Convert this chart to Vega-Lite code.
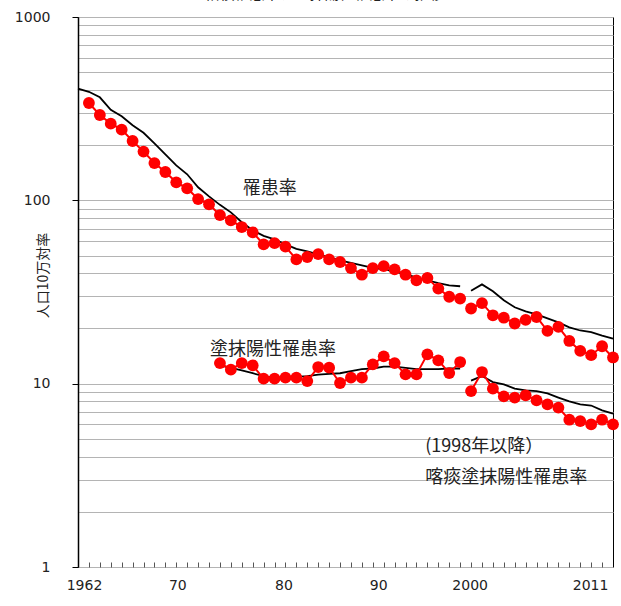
{
  "$schema": "https://vega.github.io/schema/vega-lite/v6.json",
  "width": 535,
  "height": 550,
  "autosize": {"type": "none"},
  "padding": {"left": 78, "top": 17, "right": 8, "bottom": 39},
  "background": "white",
  "config": {
    "view": {"stroke": "black", "strokeWidth": 1},
    "font": "Noto Sans CJK JP"
  },
  "title": {
    "text": "結核罹患率、塗抹陽性罹患率の推移",
    "font": "Noto Sans CJK JP",
    "fontSize": 15,
    "fontWeight": "normal",
    "color": "#222222",
    "anchor": "middle",
    "frame": "group",
    "dx": -21,
    "dy": 8,
    "baseline": "alphabetic",
    "offset": 4
  },
  "datasets": {
    "rates": [
      {"year": 1962, "series": "全国罹患率", "period": "A", "value": 406.8},
      {"year": 1963, "series": "全国罹患率", "period": "A", "value": 390.8},
      {"year": 1964, "series": "全国罹患率", "period": "A", "value": 364.7},
      {"year": 1965, "series": "全国罹患率", "period": "A", "value": 311.8},
      {"year": 1966, "series": "全国罹患率", "period": "A", "value": 287.3},
      {"year": 1967, "series": "全国罹患率", "period": "A", "value": 256.6},
      {"year": 1968, "series": "全国罹患率", "period": "A", "value": 233.5},
      {"year": 1969, "series": "全国罹患率", "period": "A", "value": 204.6},
      {"year": 1970, "series": "全国罹患率", "period": "A", "value": 178.2},
      {"year": 1971, "series": "全国罹患率", "period": "A", "value": 155.2},
      {"year": 1972, "series": "全国罹患率", "period": "A", "value": 138.7},
      {"year": 1973, "series": "全国罹患率", "period": "A", "value": 117.8},
      {"year": 1974, "series": "全国罹患率", "period": "A", "value": 105.1},
      {"year": 1975, "series": "全国罹患率", "period": "A", "value": 94.5},
      {"year": 1976, "series": "全国罹患率", "period": "A", "value": 86.0},
      {"year": 1977, "series": "全国罹患率", "period": "A", "value": 75.9},
      {"year": 1978, "series": "全国罹患率", "period": "A", "value": 68.6},
      {"year": 1979, "series": "全国罹患率", "period": "A", "value": 64.0},
      {"year": 1980, "series": "全国罹患率", "period": "A", "value": 61.3},
      {"year": 1981, "series": "全国罹患率", "period": "A", "value": 57.5},
      {"year": 1982, "series": "全国罹患率", "period": "A", "value": 54.4},
      {"year": 1983, "series": "全国罹患率", "period": "A", "value": 52.7},
      {"year": 1984, "series": "全国罹患率", "period": "A", "value": 50.7},
      {"year": 1985, "series": "全国罹患率", "period": "A", "value": 48.9},
      {"year": 1986, "series": "全国罹患率", "period": "A", "value": 47.1},
      {"year": 1987, "series": "全国罹患率", "period": "A", "value": 45.6},
      {"year": 1988, "series": "全国罹患率", "period": "A", "value": 44.2},
      {"year": 1989, "series": "全国罹患率", "period": "A", "value": 42.8},
      {"year": 1990, "series": "全国罹患率", "period": "A", "value": 42.0},
      {"year": 1991, "series": "全国罹患率", "period": "A", "value": 41.0},
      {"year": 1992, "series": "全国罹患率", "period": "A", "value": 39.5},
      {"year": 1993, "series": "全国罹患率", "period": "A", "value": 38.0},
      {"year": 1994, "series": "全国罹患率", "period": "A", "value": 36.6},
      {"year": 1995, "series": "全国罹患率", "period": "A", "value": 35.3},
      {"year": 1996, "series": "全国罹患率", "period": "A", "value": 34.4},
      {"year": 1997, "series": "全国罹患率", "period": "A", "value": 34.0},
      {"year": 1998, "series": "全国罹患率", "period": "B", "value": 32.1},
      {"year": 1999, "series": "全国罹患率", "period": "B", "value": 34.8},
      {"year": 2000, "series": "全国罹患率", "period": "B", "value": 31.9},
      {"year": 2001, "series": "全国罹患率", "period": "B", "value": 28.5},
      {"year": 2002, "series": "全国罹患率", "period": "B", "value": 26.1},
      {"year": 2003, "series": "全国罹患率", "period": "B", "value": 24.8},
      {"year": 2004, "series": "全国罹患率", "period": "B", "value": 23.9},
      {"year": 2005, "series": "全国罹患率", "period": "B", "value": 22.7},
      {"year": 2006, "series": "全国罹患率", "period": "B", "value": 21.6},
      {"year": 2007, "series": "全国罹患率", "period": "B", "value": 20.3},
      {"year": 2008, "series": "全国罹患率", "period": "B", "value": 19.5},
      {"year": 2009, "series": "全国罹患率", "period": "B", "value": 19.1},
      {"year": 2010, "series": "全国罹患率", "period": "B", "value": 18.3},
      {"year": 2011, "series": "全国罹患率", "period": "B", "value": 17.6},

      {"year": 1975, "series": "全国塗抹陽性", "period": "A", "value": 12.6},
      {"year": 1976, "series": "全国塗抹陽性", "period": "A", "value": 12.2},
      {"year": 1977, "series": "全国塗抹陽性", "period": "A", "value": 11.8},
      {"year": 1978, "series": "全国塗抹陽性", "period": "A", "value": 11.4},
      {"year": 1979, "series": "全国塗抹陽性", "period": "A", "value": 11.0},
      {"year": 1980, "series": "全国塗抹陽性", "period": "A", "value": 10.8},
      {"year": 1981, "series": "全国塗抹陽性", "period": "A", "value": 10.8},
      {"year": 1982, "series": "全国塗抹陽性", "period": "A", "value": 10.9},
      {"year": 1983, "series": "全国塗抹陽性", "period": "A", "value": 11.0},
      {"year": 1984, "series": "全国塗抹陽性", "period": "A", "value": 11.2},
      {"year": 1985, "series": "全国塗抹陽性", "period": "A", "value": 11.3},
      {"year": 1986, "series": "全国塗抹陽性", "period": "A", "value": 11.4},
      {"year": 1987, "series": "全国塗抹陽性", "period": "A", "value": 11.7},
      {"year": 1988, "series": "全国塗抹陽性", "period": "A", "value": 12.0},
      {"year": 1989, "series": "全国塗抹陽性", "period": "A", "value": 12.1},
      {"year": 1990, "series": "全国塗抹陽性", "period": "A", "value": 12.4},
      {"year": 1991, "series": "全国塗抹陽性", "period": "A", "value": 12.4},
      {"year": 1992, "series": "全国塗抹陽性", "period": "A", "value": 12.2},
      {"year": 1993, "series": "全国塗抹陽性", "period": "A", "value": 12.0},
      {"year": 1994, "series": "全国塗抹陽性", "period": "A", "value": 12.0},
      {"year": 1995, "series": "全国塗抹陽性", "period": "A", "value": 12.0},
      {"year": 1996, "series": "全国塗抹陽性", "period": "A", "value": 12.1},
      {"year": 1997, "series": "全国塗抹陽性", "period": "A", "value": 12.1},
      {"year": 1998, "series": "全国塗抹陽性", "period": "B", "value": 10.4},
      {"year": 1999, "series": "全国塗抹陽性", "period": "B", "value": 11.0},
      {"year": 2000, "series": "全国塗抹陽性", "period": "B", "value": 10.2},
      {"year": 2001, "series": "全国塗抹陽性", "period": "B", "value": 9.9},
      {"year": 2002, "series": "全国塗抹陽性", "period": "B", "value": 9.4},
      {"year": 2003, "series": "全国塗抹陽性", "period": "B", "value": 9.2},
      {"year": 2004, "series": "全国塗抹陽性", "period": "B", "value": 9.1},
      {"year": 2005, "series": "全国塗抹陽性", "period": "B", "value": 8.85},
      {"year": 2006, "series": "全国塗抹陽性", "period": "B", "value": 8.4},
      {"year": 2007, "series": "全国塗抹陽性", "period": "B", "value": 8.0},
      {"year": 2008, "series": "全国塗抹陽性", "period": "B", "value": 7.7},
      {"year": 2009, "series": "全国塗抹陽性", "period": "B", "value": 7.6},
      {"year": 2010, "series": "全国塗抹陽性", "period": "B", "value": 7.15},
      {"year": 2011, "series": "全国塗抹陽性", "period": "B", "value": 6.86},

      {"year": 1963, "series": "罹患率", "period": "A", "value": 339.6},
      {"year": 1964, "series": "罹患率", "period": "A", "value": 292},
      {"year": 1965, "series": "罹患率", "period": "A", "value": 262},
      {"year": 1966, "series": "罹患率", "period": "A", "value": 243},
      {"year": 1967, "series": "罹患率", "period": "A", "value": 210.6},
      {"year": 1968, "series": "罹患率", "period": "A", "value": 184.4},
      {"year": 1969, "series": "罹患率", "period": "A", "value": 159.7},
      {"year": 1970, "series": "罹患率", "period": "A", "value": 142.7},
      {"year": 1971, "series": "罹患率", "period": "A", "value": 125.4},
      {"year": 1972, "series": "罹患率", "period": "A", "value": 116.3},
      {"year": 1973, "series": "罹患率", "period": "A", "value": 101.6},
      {"year": 1974, "series": "罹患率", "period": "A", "value": 95.1},
      {"year": 1975, "series": "罹患率", "period": "A", "value": 83.1},
      {"year": 1976, "series": "罹患率", "period": "A", "value": 77.8},
      {"year": 1977, "series": "罹患率", "period": "A", "value": 71.5},
      {"year": 1978, "series": "罹患率", "period": "A", "value": 66.9},
      {"year": 1979, "series": "罹患率", "period": "A", "value": 57.5},
      {"year": 1980, "series": "罹患率", "period": "A", "value": 58.4},
      {"year": 1981, "series": "罹患率", "period": "A", "value": 55.9},
      {"year": 1982, "series": "罹患率", "period": "A", "value": 47.6},
      {"year": 1983, "series": "罹患率", "period": "A", "value": 49.1},
      {"year": 1984, "series": "罹患率", "period": "A", "value": 50.9},
      {"year": 1985, "series": "罹患率", "period": "A", "value": 47.6},
      {"year": 1986, "series": "罹患率", "period": "A", "value": 46.1},
      {"year": 1987, "series": "罹患率", "period": "A", "value": 42.7},
      {"year": 1988, "series": "罹患率", "period": "A", "value": 39.3},
      {"year": 1989, "series": "罹患率", "period": "A", "value": 42.7},
      {"year": 1990, "series": "罹患率", "period": "A", "value": 43.8},
      {"year": 1991, "series": "罹患率", "period": "A", "value": 42.0},
      {"year": 1992, "series": "罹患率", "period": "A", "value": 39.3},
      {"year": 1993, "series": "罹患率", "period": "A", "value": 36.6},
      {"year": 1994, "series": "罹患率", "period": "A", "value": 37.7},
      {"year": 1995, "series": "罹患率", "period": "A", "value": 33.0},
      {"year": 1996, "series": "罹患率", "period": "A", "value": 29.8},
      {"year": 1997, "series": "罹患率", "period": "A", "value": 29.1},
      {"year": 1998, "series": "罹患率", "period": "B", "value": 25.7},
      {"year": 1999, "series": "罹患率", "period": "B", "value": 27.5},
      {"year": 2000, "series": "罹患率", "period": "B", "value": 23.6},
      {"year": 2001, "series": "罹患率", "period": "B", "value": 22.9},
      {"year": 2002, "series": "罹患率", "period": "B", "value": 21.3},
      {"year": 2003, "series": "罹患率", "period": "B", "value": 22.3},
      {"year": 2004, "series": "罹患率", "period": "B", "value": 23.1},
      {"year": 2005, "series": "罹患率", "period": "B", "value": 19.4},
      {"year": 2006, "series": "罹患率", "period": "B", "value": 20.4},
      {"year": 2007, "series": "罹患率", "period": "B", "value": 17.1},
      {"year": 2008, "series": "罹患率", "period": "B", "value": 15.1},
      {"year": 2009, "series": "罹患率", "period": "B", "value": 14.3},
      {"year": 2010, "series": "罹患率", "period": "B", "value": 16.0},
      {"year": 2011, "series": "罹患率", "period": "B", "value": 13.9},

      {"year": 1975, "series": "塗抹陽性罹患率", "period": "A", "value": 12.95},
      {"year": 1976, "series": "塗抹陽性罹患率", "period": "A", "value": 11.92},
      {"year": 1977, "series": "塗抹陽性罹患率", "period": "A", "value": 12.95},
      {"year": 1978, "series": "塗抹陽性罹患率", "period": "A", "value": 12.58},
      {"year": 1979, "series": "塗抹陽性罹患率", "period": "A", "value": 10.65},
      {"year": 1980, "series": "塗抹陽性罹患率", "period": "A", "value": 10.65},
      {"year": 1981, "series": "塗抹陽性罹患率", "period": "A", "value": 10.78},
      {"year": 1982, "series": "塗抹陽性罹患率", "period": "A", "value": 10.78},
      {"year": 1983, "series": "塗抹陽性罹患率", "period": "A", "value": 10.33},
      {"year": 1984, "series": "塗抹陽性罹患率", "period": "A", "value": 12.32},
      {"year": 1985, "series": "塗抹陽性罹患率", "period": "A", "value": 12.23},
      {"year": 1986, "series": "塗抹陽性罹患率", "period": "A", "value": 10.08},
      {"year": 1987, "series": "塗抹陽性罹患率", "period": "A", "value": 10.78},
      {"year": 1988, "series": "塗抹陽性罹患率", "period": "A", "value": 10.78},
      {"year": 1989, "series": "塗抹陽性罹患率", "period": "A", "value": 12.74},
      {"year": 1990, "series": "塗抹陽性罹患率", "period": "A", "value": 14.09},
      {"year": 1991, "series": "塗抹陽性罹患率", "period": "A", "value": 12.95},
      {"year": 1992, "series": "塗抹陽性罹患率", "period": "A", "value": 11.24},
      {"year": 1993, "series": "塗抹陽性罹患率", "period": "A", "value": 11.24},
      {"year": 1994, "series": "塗抹陽性罹患率", "period": "A", "value": 14.45},
      {"year": 1995, "series": "塗抹陽性罹患率", "period": "A", "value": 13.4},
      {"year": 1996, "series": "塗抹陽性罹患率", "period": "A", "value": 11.42},
      {"year": 1997, "series": "塗抹陽性罹患率", "period": "A", "value": 13.12},
      {"year": 1998, "series": "塗抹陽性罹患率", "period": "B", "value": 9.11},
      {"year": 1999, "series": "塗抹陽性罹患率", "period": "B", "value": 11.57},
      {"year": 2000, "series": "塗抹陽性罹患率", "period": "B", "value": 9.39},
      {"year": 2001, "series": "塗抹陽性罹患率", "period": "B", "value": 8.52},
      {"year": 2002, "series": "塗抹陽性罹患率", "period": "B", "value": 8.39},
      {"year": 2003, "series": "塗抹陽性罹患率", "period": "B", "value": 8.64},
      {"year": 2004, "series": "塗抹陽性罹患率", "period": "B", "value": 8.11},
      {"year": 2005, "series": "塗抹陽性罹患率", "period": "B", "value": 7.71},
      {"year": 2006, "series": "塗抹陽性罹患率", "period": "B", "value": 7.4},
      {"year": 2007, "series": "塗抹陽性罹患率", "period": "B", "value": 6.36},
      {"year": 2008, "series": "塗抹陽性罹患率", "period": "B", "value": 6.25},
      {"year": 2009, "series": "塗抹陽性罹患率", "period": "B", "value": 6.0},
      {"year": 2010, "series": "塗抹陽性罹患率", "period": "B", "value": 6.36},
      {"year": 2011, "series": "塗抹陽性罹患率", "period": "B", "value": 6.0}
    ],
    "notes": [
      {"year": 1977.1, "value": 116, "label": "罹患率"},
      {"year": 1974.1, "value": 15.2, "label": "塗抹陽性罹患率"},
      {"year": 1993.8, "value": 4.49, "label": "(1998年以降）"},
      {"year": 1993.8, "value": 3.04, "label": "喀痰塗抹陽性罹患率"}
    ]
  },
  "encoding": {
    "x": {
      "field": "year",
      "type": "quantitative",
      "scale": {"domain": [1962, 2011], "nice": false, "zero": false},
      "axis": {
        "title": null,
        "values": [1962.55, 1963, 1964, 1965, 1966, 1967, 1968, 1969, 1970, 1971, 1971.1, 1972, 1973, 1974, 1975, 1976, 1977, 1978, 1979, 1980, 1980.82, 1981, 1982, 1983, 1984, 1985, 1986, 1987, 1988, 1989, 1989.5, 1990, 1991, 1992, 1993, 1994, 1995, 1996, 1997, 1997.87, 1998, 1999, 2000, 2001, 2002, 2003, 2004, 2005, 2006, 2007, 2008, 2008.9, 2009, 2010],
        "grid": false,
        "domain": false,
        "tickSize": -5,
        "tickColor": "#555555",
        "tickWidth": 1,
        "tickOpacity": {"condition": {"test": "datum.value % 1 === 0", "value": 1}, "value": 0},
        "labelExpr": "datum.value % 1 === 0 ? '' : (datum.value < 1965 ? '1962' : datum.value < 1975 ? '70' : datum.value < 1985 ? '80' : datum.value < 1995 ? '90' : datum.value < 2005 ? '2000' : '2011')",
        "labelOverlap": false,
        "labelFlush": false,
        "labelFont": "DejaVu Sans",
        "labelFontSize": 14,
        "labelColor": "#222222",
        "labelPadding": 16
      }
    },
    "y": {
      "field": "value",
      "type": "quantitative",
      "scale": {"type": "log", "domain": [1, 1000], "nice": false},
      "axis": {
        "title": "人口10万対率",
        "titleFont": "Noto Sans CJK JP",
        "titleFontSize": 14,
        "titleFontWeight": "normal",
        "titleColor": "#222222",
        "titleX": -35,
        "titleY": 258,
        "titleAngle": -90,
        "titleAlign": "center",
        "titleBaseline": "middle",
        "values": [1, 2, 3, 4, 5, 6, 7, 8, 9, 10, 20, 30, 40, 50, 60, 70, 80, 90, 100, 200, 300, 400, 500, 600, 700, 800, 900, 1000],
        "format": "d",
        "grid": true,
        "gridColor": "#b4b4b4",
        "gridWidth": 1,
        "domainColor": "black",
        "domainWidth": 1.5,
        "tickSize": 6,
        "tickColor": "black",
        "tickOpacity": {"condition": {"test": "indexof([1, 10, 100, 1000], datum.value) >= 0", "value": 1}, "value": 0},
        "labelExpr": "indexof([1, 10, 100, 1000], datum.value) >= 0 ? datum.label : ''",
        "labelOverlap": false,
        "labelFont": "DejaVu Sans",
        "labelFontSize": 14,
        "labelColor": "#222222",
        "labelPadding": 22
      }
    }
  },
  "layer": [
    {
      "data": {"name": "rates"},
      "transform": [{"filter": "datum.series === '全国罹患率' || datum.series === '全国塗抹陽性'"}],
      "mark": {"type": "line", "color": "black", "strokeWidth": 1.8},
      "encoding": {"detail": [{"field": "series"}, {"field": "period"}]}
    },
    {
      "data": {"name": "rates"},
      "transform": [{"filter": "datum.series === '罹患率' || datum.series === '塗抹陽性罹患率'"}],
      "mark": {"type": "line", "color": "#ff0000", "strokeWidth": 2},
      "encoding": {"detail": [{"field": "series"}, {"field": "period"}]}
    },
    {
      "data": {"name": "rates"},
      "transform": [{"filter": "datum.series === '罹患率' || datum.series === '塗抹陽性罹患率'"}],
      "mark": {"type": "circle", "color": "#ff0000", "opacity": 1, "size": 140}
    },
    {
      "data": {"name": "notes"},
      "mark": {"type": "text", "align": "left", "baseline": "middle", "font": "Noto Sans CJK JP", "fontSize": 18, "color": "#222222"},
      "encoding": {"text": {"field": "label"}}
    }
  ]
}
